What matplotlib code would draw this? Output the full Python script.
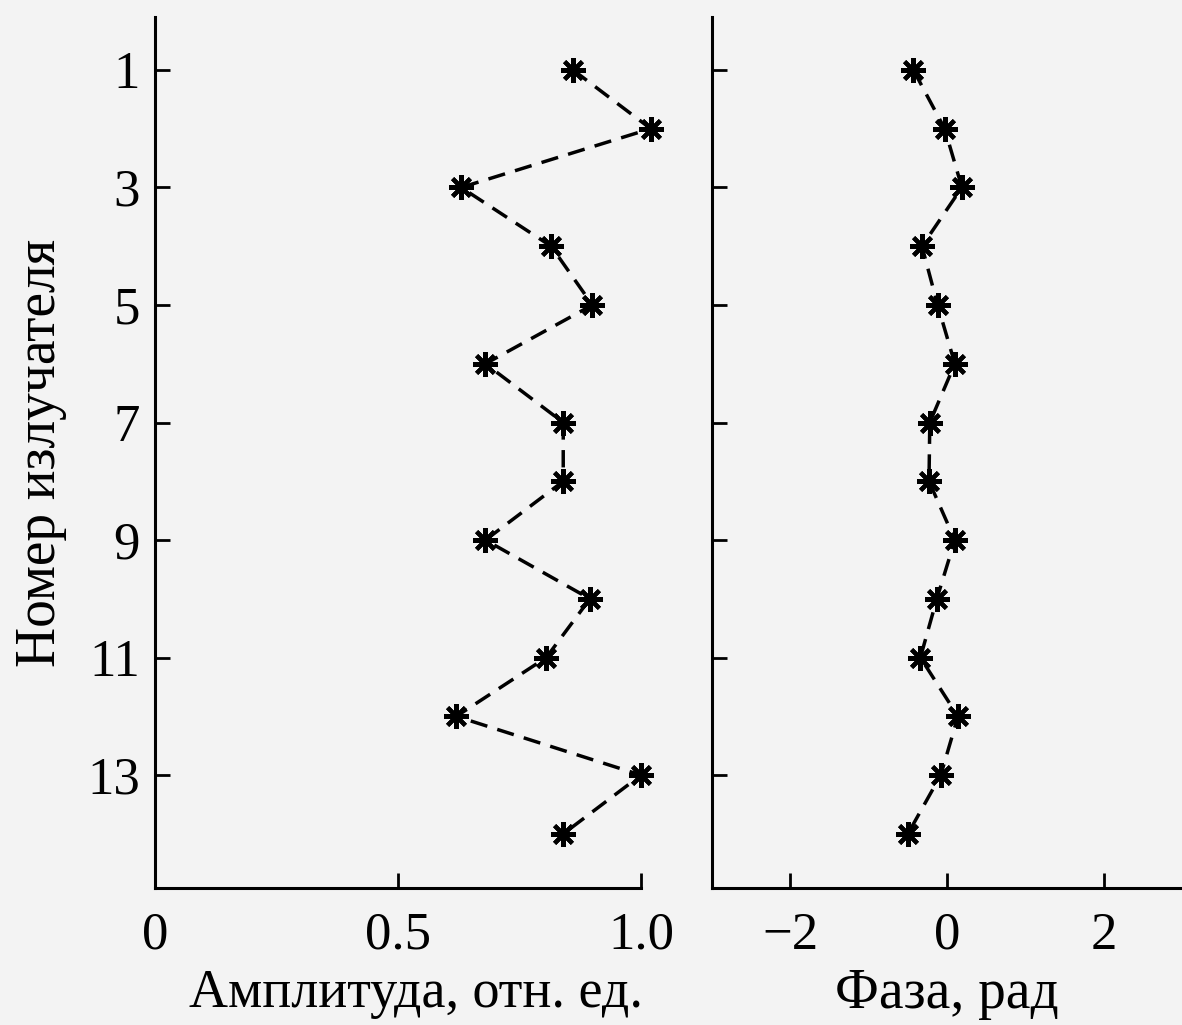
import matplotlib
matplotlib.use('Agg')
import matplotlib.pyplot as plt

# Данные: номер излучателя, амплитуда и фаза
emitters = [1, 2, 3, 4, 5, 6, 7, 8, 9, 10, 11, 12, 13, 14]
amplitude = [0.86, 1.02, 0.63, 0.815, 0.90, 0.68, 0.84, 0.84, 0.68, 0.895, 0.805, 0.62, 1.00, 0.84]
phase = [-0.43, -0.03, 0.19, -0.32, -0.12, 0.10, -0.22, -0.23, 0.10, -0.13, -0.34, 0.14, -0.08, -0.50]

y_ticks = [1, 3, 5, 7, 9, 11, 13]
amp_ticks = [0, 0.5, 1.0]
amp_tick_labels = ['0', '0.5', '1.0']
phase_ticks = [-2, 0, 2]
phase_tick_labels = ['\u22122', '0', '2']

plt.rcParams['font.family'] = ['Liberation Serif', 'DejaVu Serif']
plt.rcParams['font.size'] = 38

bg = '#f3f3f3'
fig = plt.figure(figsize=(11.82, 10.25), dpi=100, facecolor=bg)

ax1 = fig.add_axes([0.1311, 0.1337, 0.4112, 0.8497])
ax2 = fig.add_axes([0.6024, 0.1337, 0.3976, 0.8497])

line_kw = dict(color='black', linestyle=(0, (5, 3)), linewidth=2.5,
               marker=(8, 2, 0), markersize=18, markeredgewidth=3.0,
               clip_on=False)

ax1.plot(amplitude, emitters, **line_kw)
ax2.plot(phase, emitters, **line_kw)

for ax in (ax1, ax2):
    ax.set_facecolor(bg)
    ax.set_ylim(14.92, 0.1)
    for s in ('top', 'right'):
        ax.spines[s].set_visible(False)
    for s in ('left', 'bottom'):
        ax.spines[s].set_linewidth(2.2)
    ax.set_yticks(y_ticks)
    ax.tick_params(direction='in', length=11, width=2.0)
    ax.tick_params(axis='x', pad=17)
    ax.tick_params(axis='y', pad=11)

ax1.set_xlim(0, 1.0)
ax1.set_xticks(amp_ticks)
ax1.set_xticklabels(amp_tick_labels)
ax1.set_yticklabels([str(v) for v in y_ticks])
ax1.set_xlabel('Амплитуда, отн. ед.', fontsize=39)
ax1.xaxis.set_label_coords(0.537, -0.092)
ax1.set_ylabel('Номер излучателя', fontsize=40)
ax1.yaxis.set_label_coords(-0.181, 0.5)

ax2.set_xlim(-3, 3)
ax2.set_xticks(phase_ticks)
ax2.set_xticklabels(phase_tick_labels)
ax2.set_yticklabels([])
ax2.set_xlabel('Фаза, рад', fontsize=40)
ax2.xaxis.set_label_coords(0.5, -0.092)

fig.savefig('out.png', dpi=100, facecolor=bg)
